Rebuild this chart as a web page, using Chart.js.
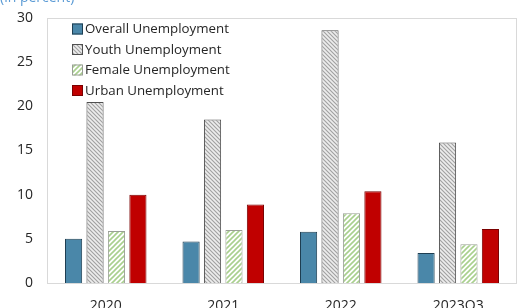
<!DOCTYPE html>
<html>
<head>
<meta charset="utf-8">
<script src="https://cdn.jsdelivr.net/npm/chart.js@4"></script>
<style>
  html, body { margin: 0; padding: 0; background: #fff; }
  #wrap { width: 518px; height: 308px; position: relative; }
</style>
</head>
<body>
<div id="wrap"><canvas id="c"></canvas></div>
<script>
const categories = ['2020', '2021', '2022', '2023Q3'];
const overall = [5.0, 4.7, 5.8, 3.4];
const youth = [20.5, 18.5, 28.6, 15.9];
const female = [5.9, 6.0, 7.9, 4.4];
const urban = [10.0, 8.9, 10.4, 6.1];
const yTicks = [0, 5, 10, 15, 20, 25, 30];

const FONT = '"Open Sans", "Noto Sans", sans-serif';

function makeYouthPattern() {
    const c = document.createElement('canvas');
    c.width = 4; c.height = 4;
    const g = c.getContext('2d');
    g.fillStyle = '#d6d6d6';
    g.fillRect(0, 0, 4, 4);
    g.fillStyle = '#a4a4a4';
    for (let i = 0; i < 4; i++) g.fillRect(i, i, 1, 1);
    g.fillStyle = '#ededed';
    for (let i = 0; i < 4; i++) g.fillRect((i + 2) % 4, i, 1, 1);
    return g.createPattern(c, 'repeat');
}

function makeFemalePattern() {
    const c = document.createElement('canvas');
    c.width = 5; c.height = 5;
    const g = c.getContext('2d');
    g.fillStyle = '#ffffff';
    g.fillRect(0, 0, 5, 5);
    g.strokeStyle = '#a9d08e';
    g.lineWidth = 1.6;
    g.beginPath();
    g.moveTo(-1, 6); g.lineTo(6, -1);
    g.moveTo(-1, 1); g.lineTo(1, -1);
    g.moveTo(4, 6); g.lineTo(6, 4);
    g.stroke();
    return g.createPattern(c, 'repeat');
}

const youthFill = makeYouthPattern();
const femaleFill = makeFemalePattern();

// plot frame, legend inside the plot, cropped unit label
const extras = {
    id: 'extras',
    beforeDatasetsDraw(chart) {
        const { ctx, chartArea: a } = chart;
        ctx.save();
        ctx.strokeStyle = '#d9d9d9';
        ctx.lineWidth = 1;
        ctx.strokeRect(a.left + 0.5, a.top + 0.5, a.right - a.left - 1, a.bottom - a.top);
        ctx.restore();
    },
    afterDraw(chart) {
        const { ctx } = chart;
        ctx.save();
        ctx.font = '14px ' + FONT;
        ctx.fillStyle = '#5b9bd5';
        ctx.textBaseline = 'alphabetic';
        ctx.fillText('(in percent)', 0, 2);

        ctx.font = '13.3px ' + FONT;
        ctx.textBaseline = 'middle';
        chart.data.datasets.forEach((ds, i) => {
            const y = 29 + i * 20.5;
            const x = 72;
            ctx.fillStyle = ds.backgroundColor;
            ctx.fillRect(x, y - 5.5, 11, 11);
            ctx.strokeStyle = ds.borderColor;
            ctx.lineWidth = 1;
            ctx.strokeRect(x + 0.5, y - 5, 10, 10);
            ctx.fillStyle = '#262626';
            ctx.fillText(ds.label, 85, y + 0.5);
        });
        ctx.restore();
    }
};

new Chart(document.getElementById('c'), {
    type: 'bar',
    data: {
        labels: categories,
        datasets: [
            { label: 'Overall Unemployment', data: overall, backgroundColor: '#4a87a9', borderColor: '#1e3e52', borderWidth: 1 },
            { label: 'Youth Unemployment', data: youth, backgroundColor: youthFill, borderColor: '#505050', borderWidth: 1 },
            { label: 'Female Unemployment', data: female, backgroundColor: femaleFill, borderColor: '#9a9f96', borderWidth: 1 },
            { label: 'Urban Unemployment', data: urban, backgroundColor: '#c00000', borderColor: '#7a0000', borderWidth: 1 }
        ]
    },
    options: {
        responsive: true,
        maintainAspectRatio: false,
        animation: false,
        devicePixelRatio: 1,
        categoryPercentage: 0.73,
        barPercentage: 0.8,
        layout: { padding: { top: 18, right: 1, left: 0, bottom: 0 } },
        plugins: {
            legend: { display: false },
            tooltip: { enabled: false }
        },
        scales: {
            x: {
                grid: { display: false, drawTicks: false },
                border: { display: false },
                ticks: { color: '#262626', font: { family: FONT, size: 14 }, padding: 15 },
                afterFit(scale) { scale.height = 25; }
            },
            y: {
                min: 0,
                max: 30,
                afterBuildTicks(scale) { scale.ticks = yTicks.map(v => ({ value: v })); },
                grid: { display: false, drawTicks: false },
                border: { display: false },
                ticks: { color: '#262626', font: { family: FONT, size: 14 }, padding: 14 },
                afterFit(scale) {
                    scale.width = 47;
                    scale.paddingTop = 0;
                    scale.paddingBottom = 0;
                }
            }
        }
    },
    plugins: [extras]
});
</script>
</body>
</html>
